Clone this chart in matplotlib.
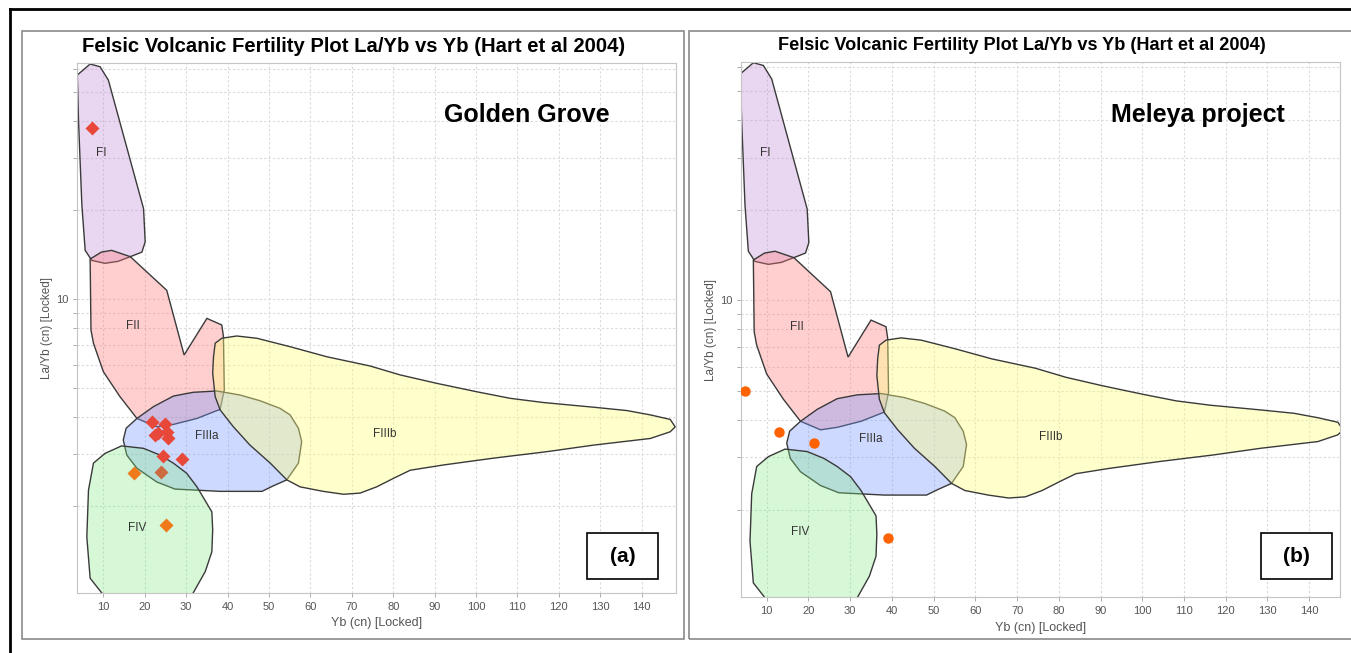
import matplotlib
matplotlib.use("Agg")
import matplotlib.pyplot as plt
from matplotlib.patches import Polygon, Rectangle
from matplotlib.lines import Line2D
from matplotlib.ticker import FixedLocator, FixedFormatter, NullFormatter

plt.rcParams['font.family'] = ['Liberation Sans', 'DejaVu Sans']

# Hart et al (2004) fertility fields, (Yb, La/Yb) vertices
fi = [(3.7, 57.1), (6.8, 62.2), (9.2, 60.9), (11.2, 54.9), (19.7, 20.2), (20.1, 15.6),
      (19.3, 14.4), (16.5, 13.9), (13.5, 13.4), (10.4, 13.2), (7.2, 13.5), (5.6, 14.6),
      (4.8, 20.8), (4.0, 39.7)]
fii = [(6.8, 13.65), (9.5, 14.4), (12.0, 14.6), (16.5, 13.9), (25.3, 10.7), (29.5, 6.47),
       (35.0, 8.6), (38.6, 8.17), (39.0, 7.46), (39.2, 4.93), (38.2, 4.24), (32.6, 3.95),
       (26.9, 3.77), (22.9, 3.70), (18.1, 3.95), (14.0, 4.68), (10.0, 5.68), (7.6, 7.09),
       (7.0, 7.86)]
fiiia = [(14.8, 3.34), (15.5, 3.66), (18.1, 3.95), (22.1, 4.33), (26.9, 4.70), (31.7, 4.84),
         (37.4, 4.89), (43.0, 4.74), (47.9, 4.53), (52.7, 4.27), (55.1, 4.06), (57.1, 3.66),
         (57.9, 3.30), (57.1, 2.79), (54.3, 2.45), (51.1, 2.34), (48.3, 2.24), (38.2, 2.24),
         (27.3, 2.28), (22.9, 2.41), (18.1, 2.68), (15.65, 2.97)]
fiiib = [(36.6, 6.39), (37.0, 7.09), (38.6, 7.37), (42.2, 7.50), (47.05, 7.37), (55.1, 6.90),
         (64.0, 6.38), (74.4, 5.94), (81.7, 5.54), (90.5, 5.19), (100.2, 4.86), (108.2, 4.62),
         (116.3, 4.47), (128.4, 4.31), (136.4, 4.20), (142.1, 4.06), (146.9, 3.92), (148.1, 3.70),
         (146.9, 3.56), (142.1, 3.38), (128.4, 3.21), (117.1, 3.05), (104.2, 2.90), (92.1, 2.75),
         (84.1, 2.64), (80.1, 2.48), (76.0, 2.32), (72.0, 2.21), (68.0, 2.19), (63.1, 2.24),
         (57.5, 2.32), (54.3, 2.45), (50.3, 2.79), (45.4, 3.21), (41.4, 3.70), (38.2, 4.22),
         (37.0, 4.68), (36.4, 5.61)]
fiv = [(14.4, 3.19), (19.7, 3.13), (23.7, 2.97), (26.9, 2.79), (30.1, 2.58), (32.6, 2.32),
       (36.2, 1.91), (36.4, 1.66), (36.2, 1.40), (34.6, 1.20), (31.4, 1.0), (10.0, 1.0),
       (6.8, 1.14), (6.0, 1.57), (6.4, 2.26), (7.6, 2.79), (10.4, 3.01)]

field_names = ['FI', 'FII', 'FIIIa', 'FIIIb', 'FIV']
field_label_x = [9.6, 17.2, 35.0, 78.0, 18.1]
field_label_y = [31.1, 8.13, 3.44, 3.49, 1.69]

# Golden Grove samples
gg_red_yb = [7.35, 21.7, 24.9, 23.3, 25.7, 25.3, 22.5, 24.5, 28.9]
gg_red_layb = [37.9, 3.85, 3.79, 3.52, 3.38, 3.56, 3.47, 2.95, 2.88]
gg_orange_yb = [17.5, 25.1]
gg_orange_layb = [2.58, 1.72]
gg_mixed_yb = [23.9]
gg_mixed_layb = [2.60]

# Meleya project samples
mel_yb = [4.8, 12.95, 21.3, 39.0]
mel_layb = [5.0, 3.65, 3.35, 1.61]

W, H = 1351, 653
fig = plt.figure(figsize=(W / 100, H / 100), dpi=100)

field_fill = [((0.76, 0.54, 0.84), 0.35), ((1.0, 0.47, 0.47), 0.35), ((0.45, 0.58, 1.0), 0.35),
              ((1.0, 1.0, 0.5), 0.4), ((0.5, 0.92, 0.5), 0.32)]


def px(x0, y0, x1, y1):
    return [x0 / W, 1 - y1 / H, (x1 - x0) / W, (y1 - y0) / H]


def panel(rect, xlim, ylim, title_x, title_y, title_size):
    ax = fig.add_axes(px(*rect))
    for verts, (rgb, a) in zip([fi, fii, fiiia, fiiib, fiv], field_fill):
        ax.add_patch(Polygon(verts, closed=True, facecolor=rgb + (a,),
                             edgecolor='#3a3a3a', lw=1.0, zorder=2))
    for name, lx, ly in zip(field_names, field_label_x, field_label_y):
        ax.text(lx, ly, name, fontsize=8.5, color='#333333', ha='center', va='center', zorder=3)
    ax.set_yscale('log')
    ax.set_xlim(*xlim)
    ax.set_ylim(*ylim)
    ax.set_xticks(range(10, 150, 10))
    ax.yaxis.set_major_locator(FixedLocator([10]))
    ax.yaxis.set_major_formatter(FixedFormatter(['10']))
    ax.yaxis.set_minor_locator(FixedLocator([2, 3, 4, 5, 6, 7, 8, 9, 20, 30, 40, 50, 60]))
    ax.yaxis.set_minor_formatter(NullFormatter())
    ax.grid(True, which='both', color='#dadada', ls=(0, (2, 2)), lw=0.8, zorder=0)
    for s in ax.spines.values():
        s.set_color('#c4c4c4')
    ax.tick_params(which='both', labelsize=8, colors='#a0a0a0', labelcolor='#555555',
                   length=3, width=0.6)
    ax.set_xlabel('Yb (cn) [Locked]', fontsize=9, color='#555555', labelpad=4)
    ax.set_ylabel('La/Yb (cn) [Locked]', fontsize=8.5, color='#555555', labelpad=2)
    fig.text(title_x / W, 1 - title_y / H,
             'Felsic Volcanic Fertility Plot La/Yb vs Yb (Hart et al 2004)',
             fontsize=title_size, fontweight='bold', ha='center', va='center')
    return ax


ax1 = panel((77.3, 63.4, 676, 592.5), (3.7, 148.3), (1.02, 62.5), 353.5, 46, 14.6)
ax1.plot(gg_red_yb, gg_red_layb, 'D', color='#e8483a', ms=7.5, mec='none', zorder=4)
ax1.plot(gg_orange_yb, gg_orange_layb, 'D', color='#f07a1a', ms=7.5, mec='none', zorder=4)
ax1.plot(gg_mixed_yb, gg_mixed_layb, 'D', color='#cc6a40', ms=7.5, mec='none', zorder=4)

ax2 = panel((741, 62.1, 1340, 597.4), (3.84, 147.4), (1.02, 62.5), 1021.5, 45, 13.1)
ax2.plot(mel_yb, mel_layb, 'o', color='#ff6200', ms=7.5, mec='none', zorder=4)

# panel frames
for x0, x1 in [(21.5, 684), (689.4, 1362)]:
    fig.add_artist(Rectangle((x0 / W, 1 - 639.3 / H), (x1 - x0) / W, (639.3 - 31) / H,
                             transform=fig.transFigure, fill=False, ec='#8a8a8a', lw=1.2))

# outer frame
fig.add_artist(Line2D([9.5 / W, 1], [1 - 9 / H, 1 - 9 / H], transform=fig.transFigure,
                      color='black', lw=2))
fig.add_artist(Line2D([9.5 / W, 9.5 / W], [0, 1 - 9 / H], transform=fig.transFigure,
                      color='black', lw=2))

# site names
fig.text(527 / W, 1 - 115 / H, 'Golden Grove', fontsize=18, fontweight='bold',
         ha='center', va='center')
fig.text(1198 / W, 1 - 115 / H, 'Meleya project', fontsize=18, fontweight='bold',
         ha='center', va='center')

# panel tags
for (x0, y0, x1, y1), tag in [((586.7, 533.3, 658.3, 579.3), '(a)'),
                              ((1260.7, 533, 1331.7, 579), '(b)')]:
    fig.add_artist(Rectangle((x0 / W, 1 - y1 / H), (x1 - x0) / W, (y1 - y0) / H,
                             transform=fig.transFigure, fc='white', ec='black', lw=1.2))
    fig.text((x0 + x1) / 2 / W, 1 - (y0 + y1) / 2 / H, tag, fontsize=15,
             fontweight='bold', ha='center', va='center')

fig.savefig('out.png', dpi=100)
